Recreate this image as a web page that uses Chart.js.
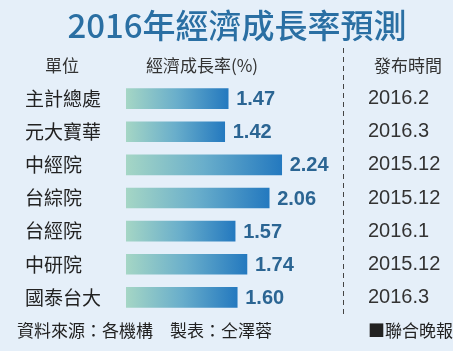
<html>
<head>
<meta charset="utf8"/>
<title>2016年經濟成長率預測</title>
<script src="https://cdn.jsdelivr.net/npm/chart.js"></script>
<style type="text/css">
html, body{
  margin: 0;
  padding: 0;
  background-color: #e5eff9;
}
#wrap{
  width: 453px;
  height: 351px;
}
</style>
</head>
<body>
<div id="wrap"><canvas id="rateChart"></canvas></div>
<script>
// data
const units = ['主計總處', '元大寶華', '中經院', '台綜院', '台經院', '中研院', '國泰台大'];
const rates = [1.47, 1.42, 2.24, 2.06, 1.57, 1.74, 1.60];
const dates = ['2016.2', '2016.3', '2015.12', '2015.12', '2016.1', '2015.12', '2016.3'];

const titleText = '2016年經濟成長率預測';
const headUnit = '單位';
const headRate = '經濟成長率(%)';
const headDate = '發布時間';
const srcText = '資料來源：各機構　製表：仝澤蓉';
const pressText = '■聯合晚報';

const CJK = '"Noto Sans CJK TC", "Noto Sans CJK SC", sans-serif';
const NUM = '"Liberation Sans", Arial, sans-serif';

function barGradient( context ){
  const chart = context.chart;
  const x = chart.scales.x;
  if( !chart.chartArea || !x ){
    return '#5fa6c9';
  }
  const v = context.raw;
  const x0 = x.getPixelForValue( 0 );
  const x1 = x.getPixelForValue( v );
  const g = chart.ctx.createLinearGradient( x0, 0, x1, 0 );
  g.addColorStop( 0, '#a5d6c5' );
  g.addColorStop( 0.5, '#69aecb' );
  g.addColorStop( 1, '#2479bf' );
  return g;
}

// title, header, dashed divider, value labels and footer
const decoPlugin = {
  id: 'deco',
  afterDatasetsDraw( chart ){
    const ctx = chart.ctx;
    const meta = chart.getDatasetMeta( 0 );
    ctx.save();
    ctx.textBaseline = 'middle';

    // value labels
    ctx.fillStyle = '#2b6593';
    ctx.font = 'bold 20px ' + NUM;
    ctx.textAlign = 'left';
    meta.data.forEach( function( bar, i ){
      ctx.fillText( rates[i].toFixed( 2 ), bar.x + 8, bar.y + 1 );
    });

    // title
    ctx.fillStyle = '#2a6fa3';
    ctx.font = '500 33px ' + CJK;
    ctx.textAlign = 'center';
    ctx.fillText( titleText, 237, 25 );

    // header row
    ctx.fillStyle = '#333';
    ctx.font = '17px ' + CJK;
    ctx.fillText( headUnit, 62, 66 );
    ctx.fillText( headRate, 202, 66 );
    ctx.fillText( headDate, 408, 66 );

    // dashed divider
    const dx = chart.chartArea.right + 0.5;
    ctx.strokeStyle = '#444';
    ctx.lineWidth = 1;
    ctx.setLineDash( [5, 4] );
    ctx.beginPath();
    ctx.moveTo( dx, 48 );
    ctx.lineTo( dx, 314 );
    ctx.stroke();
    ctx.setLineDash( [] );

    // footer
    ctx.textAlign = 'left';
    ctx.font = '17px ' + CJK;
    ctx.fillStyle = '#222';
    ctx.fillText( srcText, 17, 331 );
    ctx.fillText( pressText, 368, 331 );
    ctx.restore();
  }
};

const chartobj = new Chart( document.getElementById( 'rateChart' ), {
  type: 'bar',
  data: {
    labels: units,
    datasets: [{
      label: '經濟成長率',
      data: rates,
      backgroundColor: barGradient,
      borderWidth: 0,
      barThickness: 20
    }]
  },
  options: {
    indexAxis: 'y',
    responsive: true,
    maintainAspectRatio: false,
    animation: false,
    layout: {
      padding: { top: 82, bottom: 30, left: 25, right: 0 }
    },
    plugins: {
      legend: { display: false },
      tooltip: { enabled: false }
    },
    scales: {
      x: {
        display: false,
        min: 0,
        max: 3.122
      },
      y: {
        position: 'left',
        grid: { display: false, drawTicks: false },
        border: { display: false },
        ticks: {
          crossAlign: 'far',
          padding: 0,
          color: '#222',
          font: { family: CJK, size: 19 }
        },
        afterFit( scale ){ scale.width = 101; }
      },
      y2: {
        type: 'category',
        position: 'right',
        labels: dates,
        offset: true,
        grid: { display: false, drawTicks: false },
        border: { display: false },
        ticks: {
          crossAlign: 'near',
          padding: 25,
          color: '#333',
          font: { family: NUM, size: 20 }
        },
        afterFit( scale ){ scale.width = 110; }
      }
    }
  },
  plugins: [decoPlugin]
});
</script>
</body>
</html>
